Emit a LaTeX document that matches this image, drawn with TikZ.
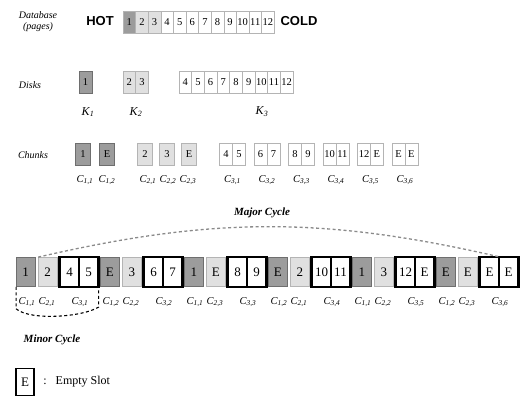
\documentclass[tikz,border=0pt]{standalone}
\usepackage{fontspec}
\setmainfont{Liberation Serif}
\newfontfamily\headfont{Liberation Sans}
\usepackage{xcolor}
\usetikzlibrary{positioning, calc}
\definecolor{hotgray}{HTML}{9C9C9C}
\definecolor{warmgray}{HTML}{E0E0E0}
\definecolor{edgegray}{HTML}{6E6E6E}
\definecolor{softedge}{HTML}{B4B4B4}
\definecolor{dashgray}{HTML}{8A8A8A}
\newcommand{\chunkname}[2]{C\textsubscript{#1,#2}}

\tikzset{
  pagebox/.style={draw=softedge, line width=0.6pt, inner sep=0pt,
    minimum width=12.6pt, minimum height=22pt, font=\fontsize{10.5}{10.5}\selectfont},
  slot/.style={inner sep=0pt, minimum width=18.5pt, minimum height=29pt,
    font=\fontsize{13}{13}\selectfont},
  hotslot/.style={slot, fill=hotgray, draw=edgegray, line width=0.7pt},
  warmslot/.style={slot, fill=warmgray, draw=softedge, line width=0.7pt},
  pairhalf/.style={slot, minimum width=19pt, draw=black, line width=1.2pt},
  pairframe/.style={draw=black, line width=2.4pt},
  rowlabel/.style={font=\fontsize{10}{11}\selectfont\itshape},
  heatword/.style={font=\headfont\bfseries\fontsize{13}{13}\selectfont},
  kname/.style={font=\fontsize{12}{12}\selectfont\itshape},
  cname/.style={font=\fontsize{10.5}{10.5}\selectfont\itshape, inner sep=0pt},
  cyclelabel/.style={font=\fontsize{11}{11}\selectfont\bfseries\itshape},
  cycleline/.style={dashed, dash pattern=on 3pt off 2.5pt, line width=1.3pt}
}

\begin{document}
\begin{tikzpicture}[x=1pt, y=-1pt]
  \useasboundingbox (0,0) rectangle (523,398);

  % database pages, hot to cold
  \node[rowlabel, align=center] (db-label) at (38,22) {Database\\(pages)};
  \node[heatword] (hot) at (100,21) {HOT};
  \foreach \p/\f in {1/hotgray,2/warmgray,3/warmgray,4/white,5/white,6/white,
                     7/white,8/white,9/white,10/white,11/white,12/white}
    \node[pagebox, fill=\f] (db\p) at (116.7+12.6*\p,22) {\p};
  \node[heatword] (cold) at (299,21) {COLD};

  % disks
  \node[rowlabel] (disks-label) at (30,85) {Disks};
  \node[pagebox, fill=hotgray, draw=edgegray] (disk1) at (85.5,82.5) {1};
  \foreach \p in {2,3}
    \node[pagebox, fill=warmgray] (disk\p) at (104.1+12.6*\p,82.5) {\p};
  \foreach \p in {4,...,12}
    \node[pagebox] (disk\p) at (134.6+12.67*\p,82.5) {\p};
  \node[kname] (k1) at (88,112) {K\textsubscript{1}};
  \node[kname] (k2) at (136,112) {K\textsubscript{2}};
  \node[kname] (k3) at (262,112) {K\textsubscript{3}};

  % chunks
  \node[rowlabel] (chunks-label) at (33,155) {Chunks};
  \node[pagebox, minimum width=15pt, fill=hotgray, draw=edgegray] (chunk-1-1) at (83,154.5) {1};
  \node[pagebox, minimum width=15pt, fill=hotgray, draw=edgegray] (chunk-1-2) at (107,154.5) {E};
  \node[pagebox, minimum width=15pt, fill=warmgray] (chunk-2-1) at (145,154.5) {2};
  \node[pagebox, minimum width=15pt, fill=warmgray] (chunk-2-2) at (167,154.5) {3};
  \node[pagebox, minimum width=15pt, fill=warmgray] (chunk-2-3) at (189,154.5) {E};
  \node[cname] at (85,180) {\chunkname{1}{1}};
  \node[cname] at (107,180) {\chunkname{1}{2}};
  \node[cname] at (148,180) {\chunkname{2}{1}};
  \node[cname] at (168,180) {\chunkname{2}{2}};
  \node[cname] at (188,180) {\chunkname{2}{3}};
  \foreach \a/\b [count=\k] in {4/5,6/7,8/9,10/11,12/E,E/E} {
    \node[pagebox, minimum width=12.8pt] (chunk-3-\k-a) at (191.6+34.5*\k,154.5) {\a};
    \node[pagebox, minimum width=12.8pt] (chunk-3-\k-b) at (204.4+34.5*\k,154.5) {\b};
    \node[cname] at (198+34.5*\k,180) {\chunkname{3}{\k}};
  }

  % broadcast schedule
  \foreach \a/\b/\c/\d/\i/\j/\k [count=\g from 0] in
      {1/2/4/5/1/1/1, E/3/6/7/2/2/2, 1/E/8/9/1/3/3,
       E/2/10/11/2/1/4, 1/3/12/E/1/2/5, E/E/E/E/2/3/6} {
    \node[hotslot] (slot-\g-a) at (25.75+84*\g,272) {\a};
    \node[warmslot] (slot-\g-b) at (47.75+84*\g,272) {\b};
    \node[pairhalf] (pair-\g-a) at (69.5+84*\g,272) {\c};
    \node[pairhalf] (pair-\g-b) at (88.5+84*\g,272) {\d};
    \draw[pairframe] (pair-\g-a.north west) rectangle (pair-\g-b.south east);
    \node[cname] at (27+84*\g,302) {\chunkname{1}{\i}};
    \node[cname] at (47+84*\g,302) {\chunkname{2}{\j}};
    \node[cname] at (80+84*\g,302) {\chunkname{3}{\k}};
  }

  % cycles
  \node[cyclelabel] (major) at (262,213) {Major Cycle};
  \draw[cycleline, draw=dashgray] (slot-0-b.north west) to[bend left=13] (pair-5-a.north east);
  \draw[cycleline, line width=1.1pt] (slot-0-a.south west) -- ++(0,22)
    .. controls +(14,12) and +(-16,10) .. ($(pair-0-b.south east)+(0,20)$)
    -- (pair-0-b.south east);
  \node[cyclelabel] (minor) at (52,340) {Minor Cycle};

  % legend
  \node[slot, minimum width=18pt, minimum height=27pt, draw=black, line width=1.6pt] (legend-e) at (25,382) {E};
  \node[right=5pt of legend-e, font=\fontsize{12}{12}\selectfont] (legend-colon) {:};
  \node[right=2pt of legend-colon, font=\fontsize{12}{12}\selectfont] (legend-text) {Empty Slot};
\end{tikzpicture}
\end{document}
